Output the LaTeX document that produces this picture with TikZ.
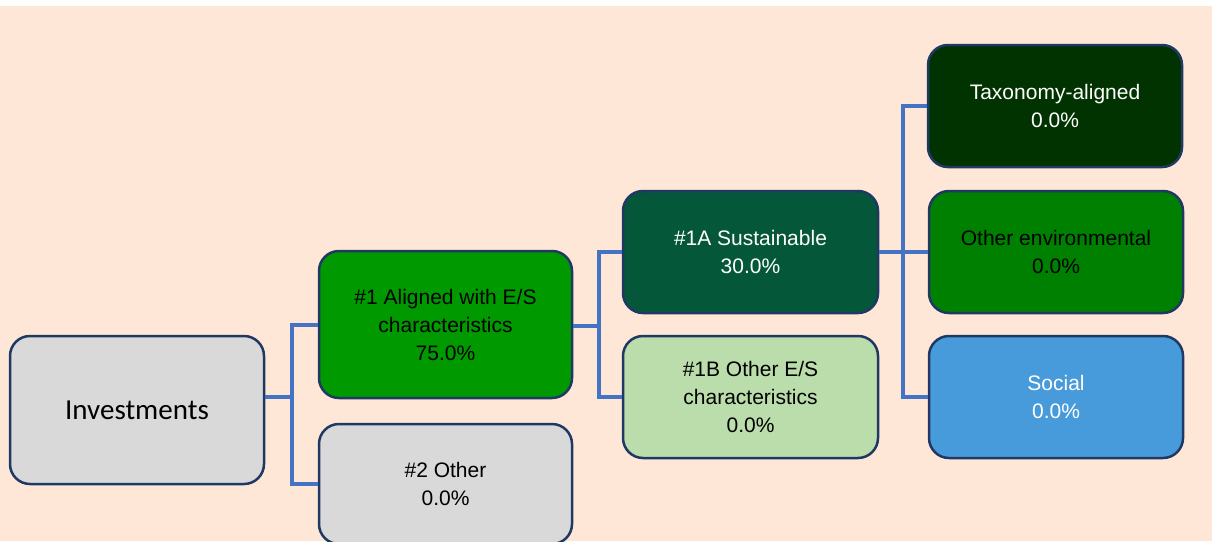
\documentclass[tikz,border=0pt]{standalone}
\usepackage{fontspec}
\setmainfont{Liberation Sans}
\newfontfamily\calibfont{Carlito}
\definecolor{bgpeach}{HTML}{FEE7D6}
\definecolor{edgeblue}{HTML}{203864}
\definecolor{connblue}{HTML}{4472C4}
\definecolor{boxgray}{HTML}{D9D9D9}
\definecolor{greenA}{HTML}{009900}
\definecolor{greenSus}{HTML}{05573A}
\definecolor{greenTax}{HTML}{003300}
\definecolor{greenEnv}{HTML}{008000}
\definecolor{blueSoc}{HTML}{489BDA}
\definecolor{greenLight}{HTML}{BADDAB}
\tikzset{
  box/.style={draw=edgeblue, line width=2.5pt, rounded corners=20pt, align=center,
    inner sep=0pt, font=\fontsize{21}{28}\selectfont},
  conn/.style={draw=connblue, line width=4pt},
}
\begin{document}
\begin{tikzpicture}[x=1pt,y=-1pt]
\useasboundingbox (0,0) rectangle (1214,541);
\fill[white] (0,0) rectangle (1214,541);
\fill[bgpeach] (0,6) rectangle (1212,541);
\begin{scope}
\clip (0,6) rectangle (1212,541);
% junction coordinates
\coordinate (j0) at (292,397);
\coordinate (j1) at (599,326);
\coordinate (j2) at (903,252);
% boxes
\node[box, fill=boxgray, minimum width=254pt, minimum height=148pt, font=\calibfont\fontsize{29}{34}\selectfont] (inv) at (137,410) {Investments};
\node[box, fill=greenA, minimum width=253pt, minimum height=147pt] (a1) at (445.5,324.5) {\#1 Aligned with E/S\\characteristics\\75.0\%};
\node[box, fill=boxgray, minimum width=253pt, minimum height=120pt] (o2) at (445.5,484) {\#2 Other\\0.0\%};
\node[box, fill=greenSus, text=white, minimum width=255pt, minimum height=122pt] (s1a) at (750.5,252) {\#1A Sustainable\\30.0\%};
\node[box, fill=greenLight, minimum width=255pt, minimum height=122pt] (s1b) at (750.5,397) {\#1B Other E/S\\characteristics\\0.0\%};
\node[box, fill=greenTax, text=white, minimum width=254pt, minimum height=122pt] (tax) at (1055,106) {Taxonomy-aligned\\0.0\%};
\node[box, fill=greenEnv, minimum width=254pt, minimum height=122pt] (env) at (1056,252) {Other environmental\\0.0\%};
\node[box, fill=blueSoc, text=white, minimum width=254pt, minimum height=122pt] (soc) at (1056,397) {Social\\0.0\%};
% connectors
\draw[conn] (inv.east |- j0) -- (j0);
\draw[conn] (a1.west) -| (j0) |- (o2.west);
\draw[conn] (a1.east |- j1) -- (j1);
\draw[conn] (s1a.west) -| (j1) |- (s1b.west);
\draw[conn] (s1a.east) -- (env.west);
\draw[conn] (tax.west) -| (j2) |- (soc.west);
\end{scope}
\end{tikzpicture}
\end{document}
